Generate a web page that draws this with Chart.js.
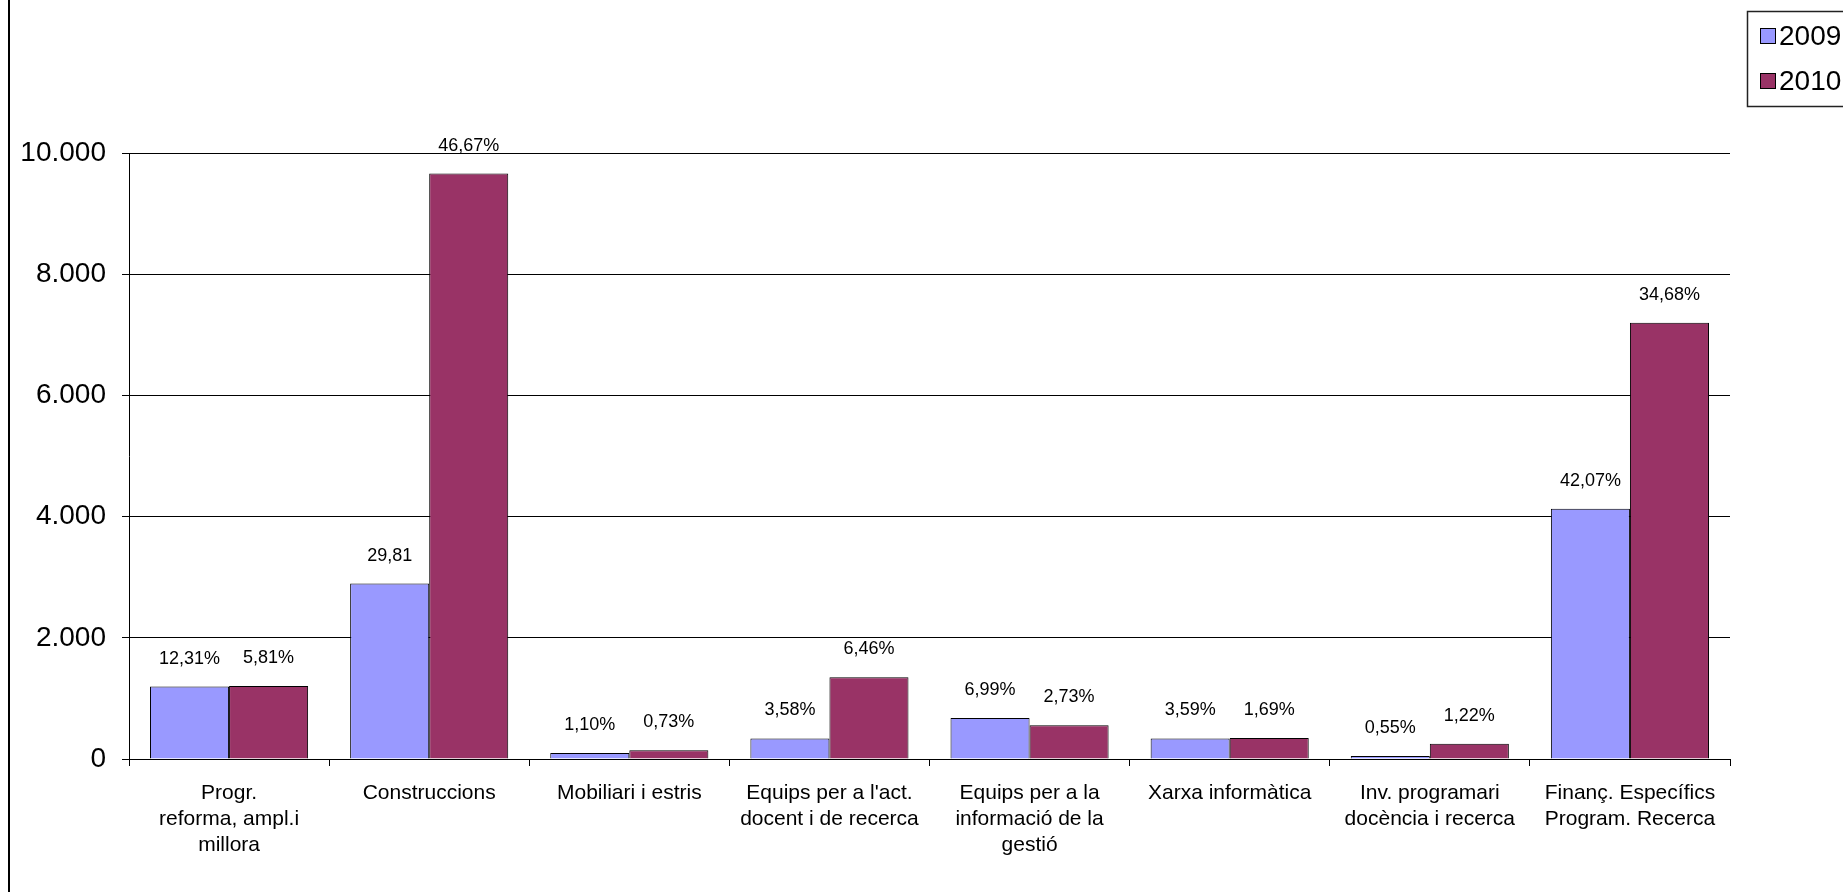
<!DOCTYPE html>
<html>
<head>
<meta charset="utf-8">
<title>Inversions 2009 - 2010</title>
<script src="https://cdn.jsdelivr.net/npm/chart.js@4.4.0/dist/chart.umd.min.js"></script>
<style>
  html, body { margin: 0; padding: 0; background: #fff; }
  #wrap { position: relative; width: 1843px; height: 892px; overflow: hidden; }
</style>
</head>
<body>
<div id="wrap"><canvas id="chart" width="1843" height="892"></canvas></div>
<script>
// Chart data
const categories = [
    ['Progr.', 'reforma, ampl.i', 'millora'],
    'Construccions',
    'Mobiliari i estris',
    ["Equips per a l'act.", 'docent i de recerca'],
    ['Equips per a la', 'informació de la', 'gestió'],
    'Xarxa informàtica',
    ['Inv. programari', 'docència i recerca'],
    ['Finanç. Específics', 'Program. Recerca']
];
const years = ['2009', '2010'];
const values2009 = [1195, 2895, 100, 340, 675, 340, 50, 4130];
const values2010 = [1205, 9660, 145, 1350, 555, 345, 250, 7200];
const pct2009 = ['12,31%', '29,81', '1,10%', '3,58%', '6,99%', '3,59%', '0,55%', '42,07%'];
const pct2010 = ['5,81%', '46,67%', '0,73%', '6,46%', '2,73%', '1,69%', '1,22%', '34,68%'];
const yTickLabels = ['0', '2.000', '4.000', '6.000', '8.000', '10.000'];

const colors = ['#9999FF', '#993366'];
const FONT = '"Liberation Sans", Arial, sans-serif';

// Percentage labels above every bar
const valueLabels = {
    id: 'valueLabels',
    afterDatasetsDraw(chart) {
        const ctx = chart.ctx;
        ctx.save();
        ctx.font = '18px ' + FONT;
        ctx.fillStyle = '#000';
        ctx.textAlign = 'center';
        ctx.textBaseline = 'middle';
        chart.data.datasets.forEach((ds, i) => {
            chart.getDatasetMeta(i).data.forEach((bar, j) => {
                ctx.fillText(ds.pctLabels[j], bar.x, bar.y - 28);
            });
        });
        ctx.restore();
    }
};

// Frame line on the left and the boxed legend top right
const frameAndLegend = {
    id: 'frameAndLegend',
    beforeDraw(chart) {
        const ctx = chart.ctx;
        ctx.save();
        ctx.fillStyle = '#fff';
        ctx.fillRect(0, 0, chart.width, chart.height);
        ctx.fillStyle = '#000';
        ctx.fillRect(8, 0, 2, chart.height);
        ctx.restore();
    },
    afterDraw(chart) {
        const ctx = chart.ctx;
        ctx.save();
        ctx.strokeStyle = '#222';
        ctx.lineWidth = 1.5;
        ctx.strokeRect(1747.5, 11.5, 130, 95);
        ctx.font = '28px ' + FONT;
        ctx.textBaseline = 'middle';
        chart.data.datasets.forEach((ds, i) => {
            const cy = 36 + i * 45;
            ctx.fillStyle = ds.backgroundColor;
            ctx.fillRect(1760, cy - 8, 15, 15);
            ctx.strokeStyle = '#000';
            ctx.lineWidth = 1;
            ctx.strokeRect(1760.5, cy - 7.5, 15, 15);
            ctx.fillStyle = '#000';
            ctx.fillText(ds.label, 1779, cy + 1);
        });
        ctx.restore();
    }
};

new Chart(document.getElementById('chart'), {
    type: 'bar',
    data: {
        labels: categories,
        datasets: [
            {
                label: years[0],
                data: values2009,
                pctLabels: pct2009,
                backgroundColor: colors[0],
                borderColor: '#000',
                borderWidth: 1,
                categoryPercentage: 0.79,
                barPercentage: 1.0
            },
            {
                label: years[1],
                data: values2010,
                pctLabels: pct2010,
                backgroundColor: colors[1],
                borderColor: '#000',
                borderWidth: 1,
                categoryPercentage: 0.79,
                barPercentage: 1.0
            }
        ]
    },
    options: {
        responsive: false,
        animation: false,
        devicePixelRatio: 1,
        layout: { padding: { top: 153, right: 113, left: 0, bottom: 0 } },
        plugins: {
            legend: { display: false },
            tooltip: { enabled: false }
        },
        scales: {
            x: {
                grid: {
                    display: true,
                    drawOnChartArea: false,
                    drawTicks: true,
                    tickLength: 7,
                    color: '#000',
                    offset: true
                },
                border: { display: true, color: '#000', width: 1 },
                ticks: {
                    color: '#000',
                    padding: 14,
                    maxRotation: 0,
                    autoSkip: false,
                    font: { family: FONT, size: 21, lineHeight: 1.25 }
                },
                afterFit(scale) { scale.height = 133; }
            },
            y: {
                min: 0,
                max: 10000,
                ticks: {
                    stepSize: 2000,
                    color: '#000',
                    padding: 16,
                    font: { family: FONT, size: 28 },
                    callback: (value, index) => yTickLabels[index]
                },
                grid: {
                    color: '#000',
                    lineWidth: 1,
                    tickLength: 7,
                    drawTicks: true
                },
                border: { display: true, color: '#000', width: 1 },
                afterFit(scale) { scale.width = 129; }
            }
        }
    },
    plugins: [frameAndLegend, valueLabels]
});
</script>
</body>
</html>
